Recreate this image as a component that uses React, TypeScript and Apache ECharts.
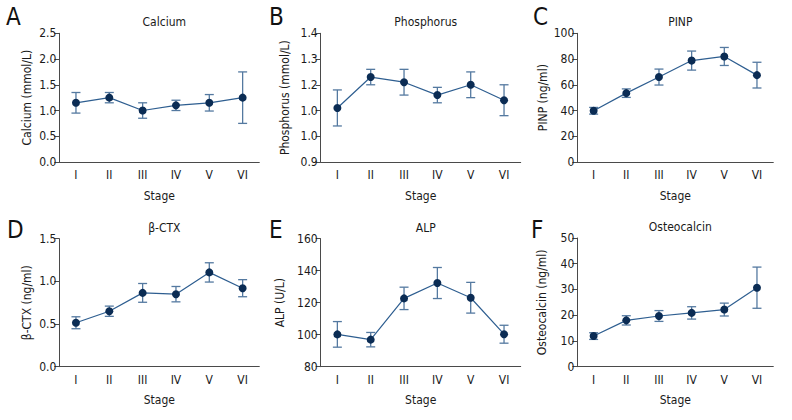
import React, { useEffect, useRef } from "react";
import * as echarts from "echarts";

const stages = ["I", "II", "III", "IV", "V", "VI"];

const calciumMean = [1.15, 1.25, 1.0, 1.1, 1.15, 1.25];
const calciumErr = [0.2, 0.1, 0.15, 0.1, 0.16, 0.5];

const phosMean = [1.11, 1.23, 1.21, 1.16, 1.2, 1.14];
const phosErr = [0.07, 0.03, 0.05, 0.03, 0.05, 0.06];
const phosTickLabels = ["0.9", "1.0", "1.0", "1.2", "1.3", "1.4"];

const pinpMean = [39.8, 53.5, 66, 78.8, 82, 67.5];
const pinpErr = [2.6, 3.3, 6.2, 7.4, 7, 10];

const ctxMean = [0.515, 0.65, 0.865, 0.85, 1.105, 0.92];
const ctxErr = [0.07, 0.06, 0.11, 0.09, 0.113, 0.1];

const alpMean = [100.2, 96.9, 122.7, 132.3, 123.1, 100.3];
const alpErr = [8, 4.5, 7, 9.7, 9.6, 5.6];

const ocMean = [11.9, 18.0, 19.7, 20.9, 22.2, 30.7];
const ocErr = [1.3, 1.8, 2.1, 2.4, 2.5, 8];

const FONT = "'Liberation Sans Narrow', 'DejaVu Sans Condensed', 'Roboto', sans-serif";

const panels = [
  { letter: "A", title: "Calcium", yName: "Calcium (mmol/L)", mean: calciumMean, err: calciumErr, min: 0, max: 2.5, interval: 0.5, dec: 1, left: 59.3, top: 33.3, width: 200, height: 128.7, nameGap: 26, xGap: 28, lx: 13, ly: 18 },
  { letter: "B", title: "Phosphorus", yName: "Phosphorus (mmol/L)", mean: phosMean, err: phosErr, min: 0.9, max: 1.4, interval: 0.1, dec: 1, left: 320.7, top: 33.3, width: 200, height: 128.7, nameGap: 30, xGap: 28, lx: 276, ly: 18, phos: true },
  { letter: "C", title: "PINP", yName: "PINP (ng/ml)", mean: pinpMean, err: pinpErr, min: 0, max: 100, interval: 20, dec: 0, left: 577.3, top: 33.3, width: 196, height: 128.7, nameGap: 28, xGap: 28, lx: 540, ly: 18 },
  { letter: "D", title: "β-CTX", yName: "β-CTX (ng/ml)", mean: ctxMean, err: ctxErr, min: 0, max: 1.5, interval: 0.5, dec: 1, left: 59.3, top: 238.7, width: 200, height: 128, nameGap: 26, xGap: 27, lx: 14, ly: 231 },
  { letter: "E", title: "ALP", yName: "ALP (U/L)", mean: alpMean, err: alpErr, min: 80, max: 160, interval: 20, dec: 0, left: 320.7, top: 238.7, width: 200, height: 128, nameGap: 35, xGap: 27, lx: 276, ly: 231 },
  { letter: "F", title: "Osteocalcin", yName: "Osteocalcin (ng/ml)", mean: ocMean, err: ocErr, min: 0, max: 50, interval: 10, dec: 0, left: 577.3, top: 238, width: 196, height: 128.7, nameGap: 29, xGap: 27, lx: 538, ly: 231 },
];

export default function App() {
  const ref = useRef<HTMLDivElement>(null);
  useEffect(() => {
    if (!ref.current) return;
    const chart = echarts.init(ref.current, null, { renderer: "svg" });
    const grid: any[] = [];
    const xAxis: any[] = [];
    const yAxis: any[] = [];
    const series: any[] = [];
    const title: any[] = [];
    const graphic: any[] = [];
    const axisColor = "#4a4a4a";
    const textColor = "#1a1a1a";

    panels.forEach((p, i) => {
      grid.push({ left: p.left, top: p.top, width: p.width, height: p.height, containLabel: false });
      xAxis.push({
        type: "category",
        gridIndex: i,
        data: stages,
        boundaryGap: true,
        name: "Stage",
        nameLocation: "middle",
        nameGap: p.xGap,
        nameTextStyle: { fontFamily: FONT, fontSize: 12, color: textColor },
        axisLine: { lineStyle: { color: axisColor, width: 1 } },
        axisTick: { alignWithLabel: true, length: 6, lineStyle: { color: axisColor } },
        axisLabel: { fontFamily: FONT, fontSize: 12, color: textColor, margin: 7 },
        splitLine: { show: false },
      });
      yAxis.push({
        type: "value",
        gridIndex: i,
        min: p.min,
        max: p.max,
        interval: p.interval,
        name: p.yName,
        nameLocation: "middle",
        nameGap: p.nameGap,
        nameRotate: 90,
        nameTextStyle: { fontFamily: FONT, fontSize: 12, color: textColor },
        axisLine: { show: true, lineStyle: { color: axisColor, width: 1 } },
        axisTick: { show: true, length: 5, lineStyle: { color: axisColor } },
        axisLabel: {
          fontFamily: FONT,
          fontSize: 12,
          color: textColor,
          margin: 3,
          formatter: (v: number) => {
            if ((p as any).phos) {
              const idx = Math.round((v - 0.9) / 0.1);
              return phosTickLabels[idx] ?? v.toFixed(1);
            }
            return v.toFixed(p.dec);
          },
        },
        splitLine: { show: false },
      });
      title.push({
        text: p.title,
        left: p.left + p.width / 2,
        top: p.top - 22,
        textAlign: "center",
        textStyle: { fontFamily: FONT, fontSize: 12, fontWeight: "normal", color: textColor },
      });
      graphic.push({
        type: "text",
        left: p.lx - 7,
        top: p.ly - 13,
        style: { text: p.letter, font: `24px ${FONT}`, fill: "#111" },
      });
      series.push({
        type: "custom",
        xAxisIndex: i,
        yAxisIndex: i,
        z: 2,
        encode: { x: 0, y: [1, 2] },
        data: p.mean.map((m, k) => [k, m - p.err[k], m + p.err[k]]),
        renderItem: (params: any, api: any) => {
          const xi = api.value(0);
          const lo = api.coord([xi, api.value(1)]);
          const hi = api.coord([xi, api.value(2)]);
          const cap = 4.5;
          const st = { stroke: "#5479a0", lineWidth: 1.3 };
          return {
            type: "group",
            children: [
              { type: "line", shape: { x1: lo[0], y1: lo[1], x2: hi[0], y2: hi[1] }, style: st },
              { type: "line", shape: { x1: hi[0] - cap, y1: hi[1], x2: hi[0] + cap, y2: hi[1] }, style: st },
              { type: "line", shape: { x1: lo[0] - cap, y1: lo[1], x2: lo[0] + cap, y2: lo[1] }, style: st },
            ],
          };
        },
      });
      series.push({
        type: "line",
        xAxisIndex: i,
        yAxisIndex: i,
        z: 3,
        data: p.mean,
        symbol: "circle",
        symbolSize: 8,
        lineStyle: { color: "#2e5e90", width: 1.2 },
        itemStyle: { color: "#0b2c54", borderWidth: 0 },
      });
    });

    chart.setOption({
      animation: false,
      backgroundColor: "#ffffff",
      grid,
      xAxis,
      yAxis,
      title,
      graphic,
      series,
    });
    return () => chart.dispose();
  }, []);
  return (
    <div
      ref={ref}
      style={{ position: "fixed", left: 0, top: 0, width: 792, height: 420, background: "#fff" }}
    />
  );
}
